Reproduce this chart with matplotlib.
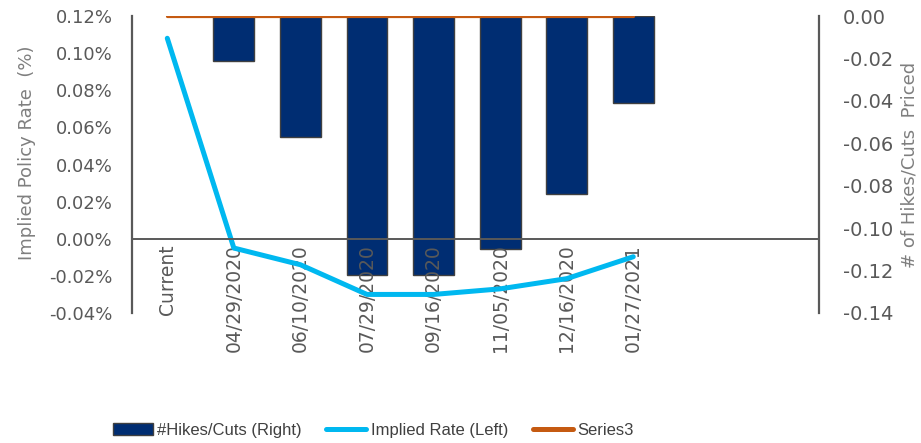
"""
Implied policy rate vs. number of hikes/cuts priced
"""

import matplotlib
matplotlib.use("Agg")
import matplotlib.pyplot as plt
from matplotlib.ticker import FuncFormatter
from matplotlib.patches import Patch
from matplotlib.lines import Line2D

# data
categories = ["Current", "04/29/2020", "06/10/2020", "07/29/2020",
              "09/16/2020", "11/05/2020", "12/16/2020", "01/27/2021"]
implied_rate = [0.108, -0.005, -0.014, -0.030, -0.030, -0.027, -0.0215, -0.0097]
bar_dates = categories[1:]
hikes_cuts = [-0.021, -0.057, -0.122, -0.122, -0.110, -0.084, -0.041]
series3 = [0, 0, 0, 0, 0, 0, 0, 0]

NAVY = "#002D72"
BLUE = "#00B8F0"
ORANGE = "#C55A11"
GRAY = "#595959"

fig = plt.figure(figsize=(9.21, 4.43), dpi=100)
ax = fig.add_axes([132 / 921, 1 - 313 / 443, (819 - 132) / 921, (313 - 16) / 443])
ax2 = ax.twinx()

# spines first (moving a spine resets the tick labels)
for a in (ax, ax2):
    a.spines["top"].set_visible(False)
ax2.spines["bottom"].set_visible(False)
ax2.spines["left"].set_visible(False)
ax2.spines["right"].set_color(GRAY)
ax2.spines["right"].set_linewidth(1.6)
ax.spines["right"].set_visible(False)
ax.spines["left"].set_color(GRAY)
ax.spines["left"].set_linewidth(1.6)
ax.spines["bottom"].set_position(("data", 0))
ax.spines["bottom"].set_color(GRAY)
ax.spines["bottom"].set_linewidth(1.4)

# right axis: bars + Series3
bar_x = [categories.index(d) for d in bar_dates]
ax2.bar(bar_x, hikes_cuts, width=0.615, color=NAVY, edgecolor="#404040", linewidth=1)
ax2.plot(range(len(categories)), series3, color=ORANGE, lw=2.3, solid_capstyle="round")
ax2.set_ylim(-0.14, 0.0)
ax2.set_yticks([-0.14, -0.12, -0.10, -0.08, -0.06, -0.04, -0.02, 0.0])
ax2.yaxis.set_major_formatter(FuncFormatter(lambda v, p: f"{v:.2f}"))
ax2.tick_params(axis="y", length=0, pad=17, labelsize=14, labelcolor=GRAY)
ax2.set_ylabel("# of Hikes/Cuts  Priced", color="#7f7f7f", fontsize=13,
               rotation=90)
ax2.yaxis.set_label_coords(1.118, 0.5)

# left axis: implied rate line
ax.set_zorder(ax2.get_zorder() + 1)
ax.patch.set_visible(False)
ax.plot(range(len(categories)), implied_rate, color=BLUE, lw=3.6,
        solid_capstyle="round", solid_joinstyle="round")
ax.set_ylim(-0.04, 0.12)
ax.set_yticks([-0.04, -0.02, 0.0, 0.02, 0.04, 0.06, 0.08, 0.10, 0.12])
ax.yaxis.set_major_formatter(FuncFormatter(lambda v, p: f"{v:.2f}%"))
ax.tick_params(axis="y", length=0, pad=14, labelsize=13, labelcolor=GRAY)
ax.set_ylabel("Implied Policy Rate  (%)", color="#7f7f7f", fontsize=13)
ax.yaxis.set_label_coords(-0.14, 0.54)

ax.set_xlim(-0.53, 9.79)
ax.set_xticks(range(len(categories)))
ax.set_xticklabels(categories, rotation=90, fontsize=13.5, color=GRAY)
ax.tick_params(axis="x", length=0, pad=4)

handles = [
    Patch(facecolor=NAVY, edgecolor="#404040", linewidth=1),
    Line2D([], [], color=BLUE, lw=3.6, solid_capstyle="round"),
    Line2D([], [], color=ORANGE, lw=3.6, solid_capstyle="round"),
]
labels = ["#Hikes/Cuts (Right)", "Implied Rate (Left)", "Series3"]
fig.legend(handles, labels, ncol=3, loc="center", bbox_to_anchor=(0.405, 0.029),
           frameon=False, handlelength=2.4, handleheight=0.8, handletextpad=0.25,
           columnspacing=1.5, prop={"family": "Liberation Sans", "size": 12},
           labelcolor="#404040")

fig.savefig("out.png", dpi=100)
